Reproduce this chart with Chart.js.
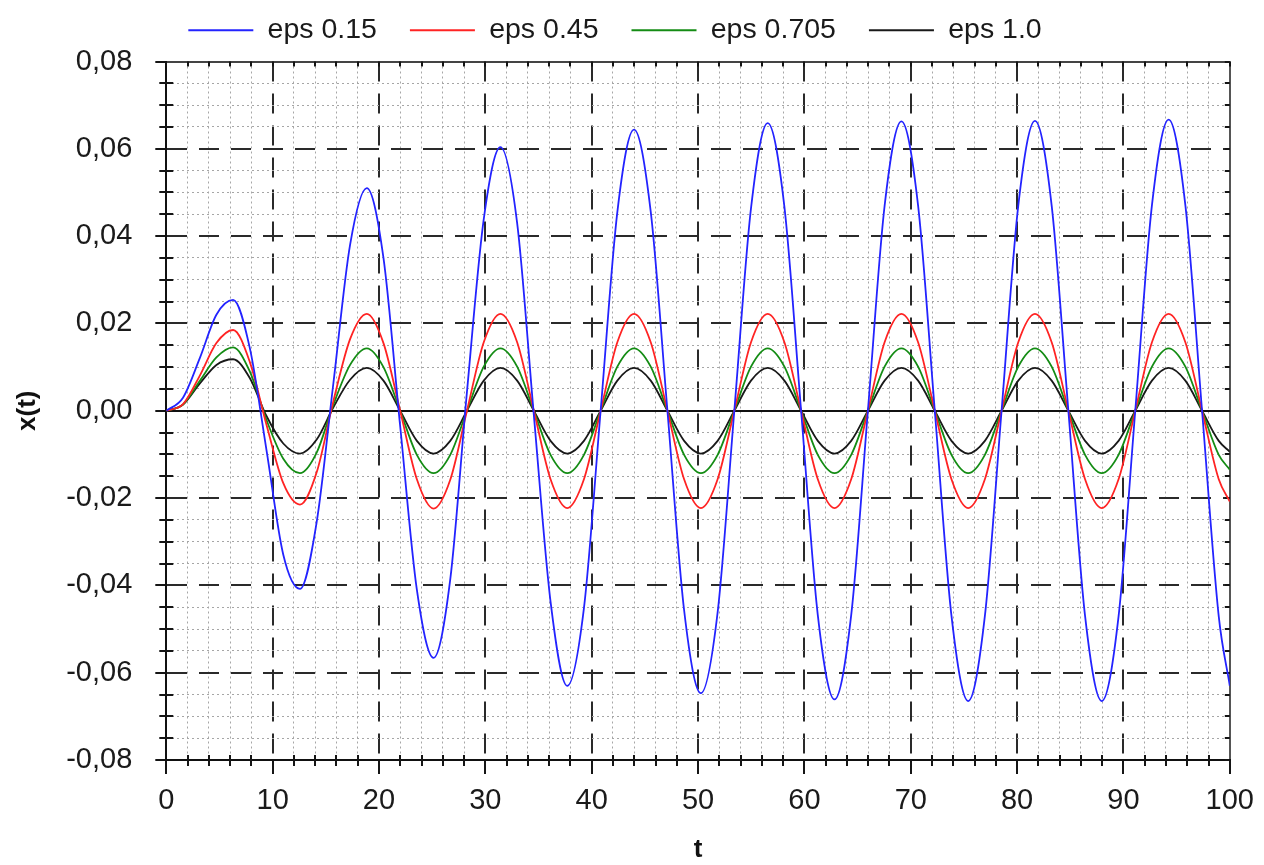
<!DOCTYPE html>
<html lang="en">
<head>
  <meta charset="UTF-8" />
  <title>x(t) for several eps</title>
  <style>
    html, body { margin: 0; padding: 0; background: #ffffff; }
  </style>
</head>
<body>
  <canvas id="myChart" width="1264" height="865"></canvas>

  <script src="https://cdn.jsdelivr.net/npm/chart.js@4.4.1/dist/chart.umd.min.js"></script>
  <script>
    // sample times (every pi/2)
    const times = [
      0, 1.57, 3.14, 4.71, 6.28, 7.85, 9.42, 11.0,
      12.57, 14.14, 15.71, 17.28, 18.85, 20.42, 21.99, 23.56,
      25.13, 26.7, 28.27, 29.85, 31.42, 32.99, 34.56, 36.13,
      37.7, 39.27, 40.84, 42.41, 43.98, 45.55, 47.12, 48.69,
      50.27, 51.84, 53.41, 54.98, 56.55, 58.12, 59.69, 61.26,
      62.83, 64.4, 65.97, 67.54, 69.12, 70.69, 72.26, 73.83,
      75.4, 76.97, 78.54, 80.11, 81.68, 83.25, 84.82, 86.39,
      87.96, 89.54, 91.11, 92.68, 94.25, 95.82, 97.39, 98.96,
      100
    ];

    const eps015 = [
      0, 0.003, 0.012, 0.022, 0.0254, 0.0144, -0.009, -0.033,
      -0.0408, -0.0255, 0.0063, 0.038, 0.051, 0.035, -0.0035, -0.041,
      -0.0566, -0.0386, 0.0043, 0.0439, 0.0604, 0.043, -0.001, -0.0437,
      -0.063, -0.0452, 0, 0.0455, 0.0644, 0.0456, 0, -0.0457,
      -0.0647, -0.0462, 0, 0.0464, 0.0659, 0.0467, 0, -0.0468,
      -0.0661, -0.0468, 0, 0.0469, 0.0663, 0.047, 0, -0.047,
      -0.0665, -0.047, 0, 0.047, 0.0664, 0.047, 0, -0.047,
      -0.0665, -0.0471, 0, 0.0471, 0.0667, 0.0471, 0, -0.0471,
      -0.063
    ];

    const eps045 = [
      0, 0.0015, 0.008, 0.0155, 0.0185, 0.0112, -0.0032, -0.0166,
      -0.0215, -0.0141, 0.0022, 0.0164, 0.0222, 0.0155, 0, -0.0157,
      -0.0224, -0.0158, 0, 0.0157, 0.0222, 0.0157, 0, -0.0157,
      -0.0223, -0.0157, 0, 0.0157, 0.0222, 0.0157, 0, -0.0157,
      -0.0223, -0.0157, 0, 0.0157, 0.0222, 0.0157, 0, -0.0157,
      -0.0223, -0.0157, 0, 0.0157, 0.0222, 0.0157, 0, -0.0157,
      -0.0223, -0.0157, 0, 0.0157, 0.0222, 0.0157, 0, -0.0157,
      -0.0223, -0.0157, 0, 0.0157, 0.0222, 0.0157, 0, -0.0157,
      -0.0208
    ];

    const eps0705 = [
      0, 0.0014, 0.0068, 0.0122, 0.0145, 0.009, -0.0021, -0.011,
      -0.0143, -0.0096, 0.0014, 0.0105, 0.0143, 0.01, 0, -0.0101,
      -0.0143, -0.0101, 0, 0.0101, 0.0143, 0.0101, 0, -0.0101,
      -0.0143, -0.0101, 0, 0.0101, 0.0143, 0.0101, 0, -0.0101,
      -0.0143, -0.0101, 0, 0.0101, 0.0143, 0.0101, 0, -0.0101,
      -0.0143, -0.0101, 0, 0.0101, 0.0143, 0.0101, 0, -0.0101,
      -0.0143, -0.0101, 0, 0.0101, 0.0143, 0.0101, 0, -0.0101,
      -0.0143, -0.0101, 0, 0.0101, 0.0143, 0.0101, 0, -0.0101,
      -0.0135
    ];

    const eps10 = [
      0, 0.0014, 0.0062, 0.0105, 0.0118, 0.0075, -0.0012, -0.0075,
      -0.0098, -0.0066, 0.0008, 0.0071, 0.0098, 0.0069, 0, -0.0069,
      -0.0098, -0.0069, 0, 0.0069, 0.0098, 0.0069, 0, -0.0069,
      -0.0098, -0.0069, 0, 0.0069, 0.0098, 0.0069, 0, -0.0069,
      -0.0098, -0.0069, 0, 0.0069, 0.0098, 0.0069, 0, -0.0069,
      -0.0098, -0.0069, 0, 0.0069, 0.0098, 0.0069, 0, -0.0069,
      -0.0098, -0.0069, 0, 0.0069, 0.0098, 0.0069, 0, -0.0069,
      -0.0098, -0.0069, 0, 0.0069, 0.0098, 0.0069, 0, -0.0069,
      -0.0094
    ];

    const labels = ["eps 0.15", "eps 0.45", "eps 0.705", "eps 1.0"];
    const series = [eps015, eps045, eps0705, eps10];
    const colors = ["rgb(35,35,255)", "rgb(255,35,35)", "rgb(20,140,20)", "rgb(25,25,25)"];

    const sans = "'Liberation Sans', Arial, sans-serif";

    // major grid every 10 on t, every 0.02 on x(t); minor ones in between
    const isMajorX = (v) => Math.round(v) % 10 === 0;
    const isMajorY = (v) => Math.round(v * 1000) % 20 === 0;

    // stretch the gap between legend and plot
    const legendGap = {
      id: "legendGap",
      beforeInit(chart) {
        const fit = chart.legend.fit;
        chart.legend.fit = function () {
          fit.bind(chart.legend)();
          this.height += 7;
        };
      }
    };

    // small ticks across the axes and inside the top / right frame
    const frameTicks = {
      id: "frameTicks",
      beforeDatasetsDraw(chart) {
        const { ctx, chartArea: a, scales: { x, y } } = chart;
        ctx.save();
        ctx.strokeStyle = "#151515";
        ctx.lineWidth = 2;
        ctx.beginPath();
        x.ticks.forEach((t) => {
          const px = Math.round(x.getPixelForValue(t.value));
          if (!isMajorX(t.value)) {
            ctx.moveTo(px, a.bottom - 5);
            ctx.lineTo(px, a.bottom + 6);
          }
          ctx.moveTo(px, a.top);
          ctx.lineTo(px, a.top + 5);
        });
        y.ticks.forEach((t) => {
          const py = Math.round(y.getPixelForValue(t.value));
          if (!isMajorY(t.value)) {
            ctx.moveTo(a.left - 7, py);
            ctx.lineTo(a.left + 7, py);
          }
          ctx.moveTo(a.right - 5, py);
          ctx.lineTo(a.right, py);
        });
        ctx.stroke();
        ctx.restore();
      }
    };

    const datasets = series.map((vals, i) => ({
      label: labels[i],
      data: times.map((t, j) => ({ x: t, y: vals[j] })),
      borderColor: colors[i],
      backgroundColor: colors[i],
      borderWidth: 1.8,
      pointRadius: 0,
      cubicInterpolationMode: "monotone",
      fill: false
    }));

    new Chart(document.getElementById("myChart"), {
      type: "line",
      data: { datasets: datasets },
      options: {
        responsive: false,
        animation: false,
        devicePixelRatio: 1,
        layout: { padding: { top: -17, right: 34, bottom: 0, left: 0 } },
        plugins: {
          legend: {
            position: "top",
            labels: {
              usePointStyle: true,
              pointStyle: "line",
              pointStyleWidth: 65,
              padding: 33,
              color: "#1a1a1a",
              font: { family: sans, size: 28.5 }
            }
          },
          tooltip: { enabled: false }
        },
        scales: {
          x: {
            type: "linear",
            min: 0,
            max: 100,
            ticks: {
              stepSize: 2,
              autoSkip: false,
              maxRotation: 0,
              padding: 10,
              color: "#1a1a1a",
              font: { family: sans, size: 29 },
              callback: (v) => (isMajorX(v) ? String(v) : "")
            },
            grid: {
              color: (ctx) => {
                const v = Math.round(ctx.tick.value);
                if (v === 0) return "#111";
                if (v === 100) return "#555";
                return isMajorX(v) ? "#2a2a2a" : "#a6a6a6";
              },
              lineWidth: (ctx) => (isMajorX(ctx.tick.value) ? 2 : 1),
              tickColor: (ctx) => (isMajorX(ctx.tick.value) ? "#151515" : "rgba(0,0,0,0)"),
              tickLength: 14,
              tickWidth: 2
            },
            border: {
              display: true,
              color: "#111",
              width: 2,
              dash: (ctx) => {
                if (!ctx.tick) return [];
                const v = Math.round(ctx.tick.value);
                if (v === 0 || v === 100) return [];
                return isMajorX(v) ? [20, 12] : [2, 3];
              }
            },
            title: {
              display: true,
              text: "t",
              color: "#111",
              font: { family: sans, size: 26, weight: "bold" },
              padding: { top: 5, bottom: 0 }
            }
          },
          y: {
            type: "linear",
            min: -0.08,
            max: 0.08,
            ticks: {
              stepSize: 0.005,
              autoSkip: false,
              padding: 23,
              color: "#1a1a1a",
              font: { family: sans, size: 29 },
              callback: (v) => (isMajorY(v) ? v.toFixed(2).replace(".", ",") : "")
            },
            grid: {
              color: (ctx) => {
                const m = Math.round(ctx.tick.value * 1000);
                if (m === 0 || m === -80) return "#111";
                if (m === 80) return "#444";
                return m % 20 === 0 ? "#2a2a2a" : "#a6a6a6";
              },
              lineWidth: (ctx) => (isMajorY(ctx.tick.value) ? 2 : 1),
              tickColor: (ctx) => (isMajorY(ctx.tick.value) ? "#151515" : "rgba(0,0,0,0)"),
              tickLength: 11,
              tickWidth: 2
            },
            border: {
              display: true,
              color: "#111",
              width: 2,
              dash: (ctx) => {
                if (!ctx.tick) return [];
                const m = Math.round(ctx.tick.value * 1000);
                if (m === 0 || m === 80 || m === -80) return [];
                return m % 20 === 0 ? [20, 12] : [2, 3];
              }
            },
            title: {
              display: true,
              text: "x(t)",
              color: "#111",
              font: { family: sans, size: 26, weight: "bold" },
              padding: { top: 12, bottom: 0 }
            }
          }
        }
      },
      plugins: [legendGap, frameTicks]
    });
  </script>
</body>
</html>
